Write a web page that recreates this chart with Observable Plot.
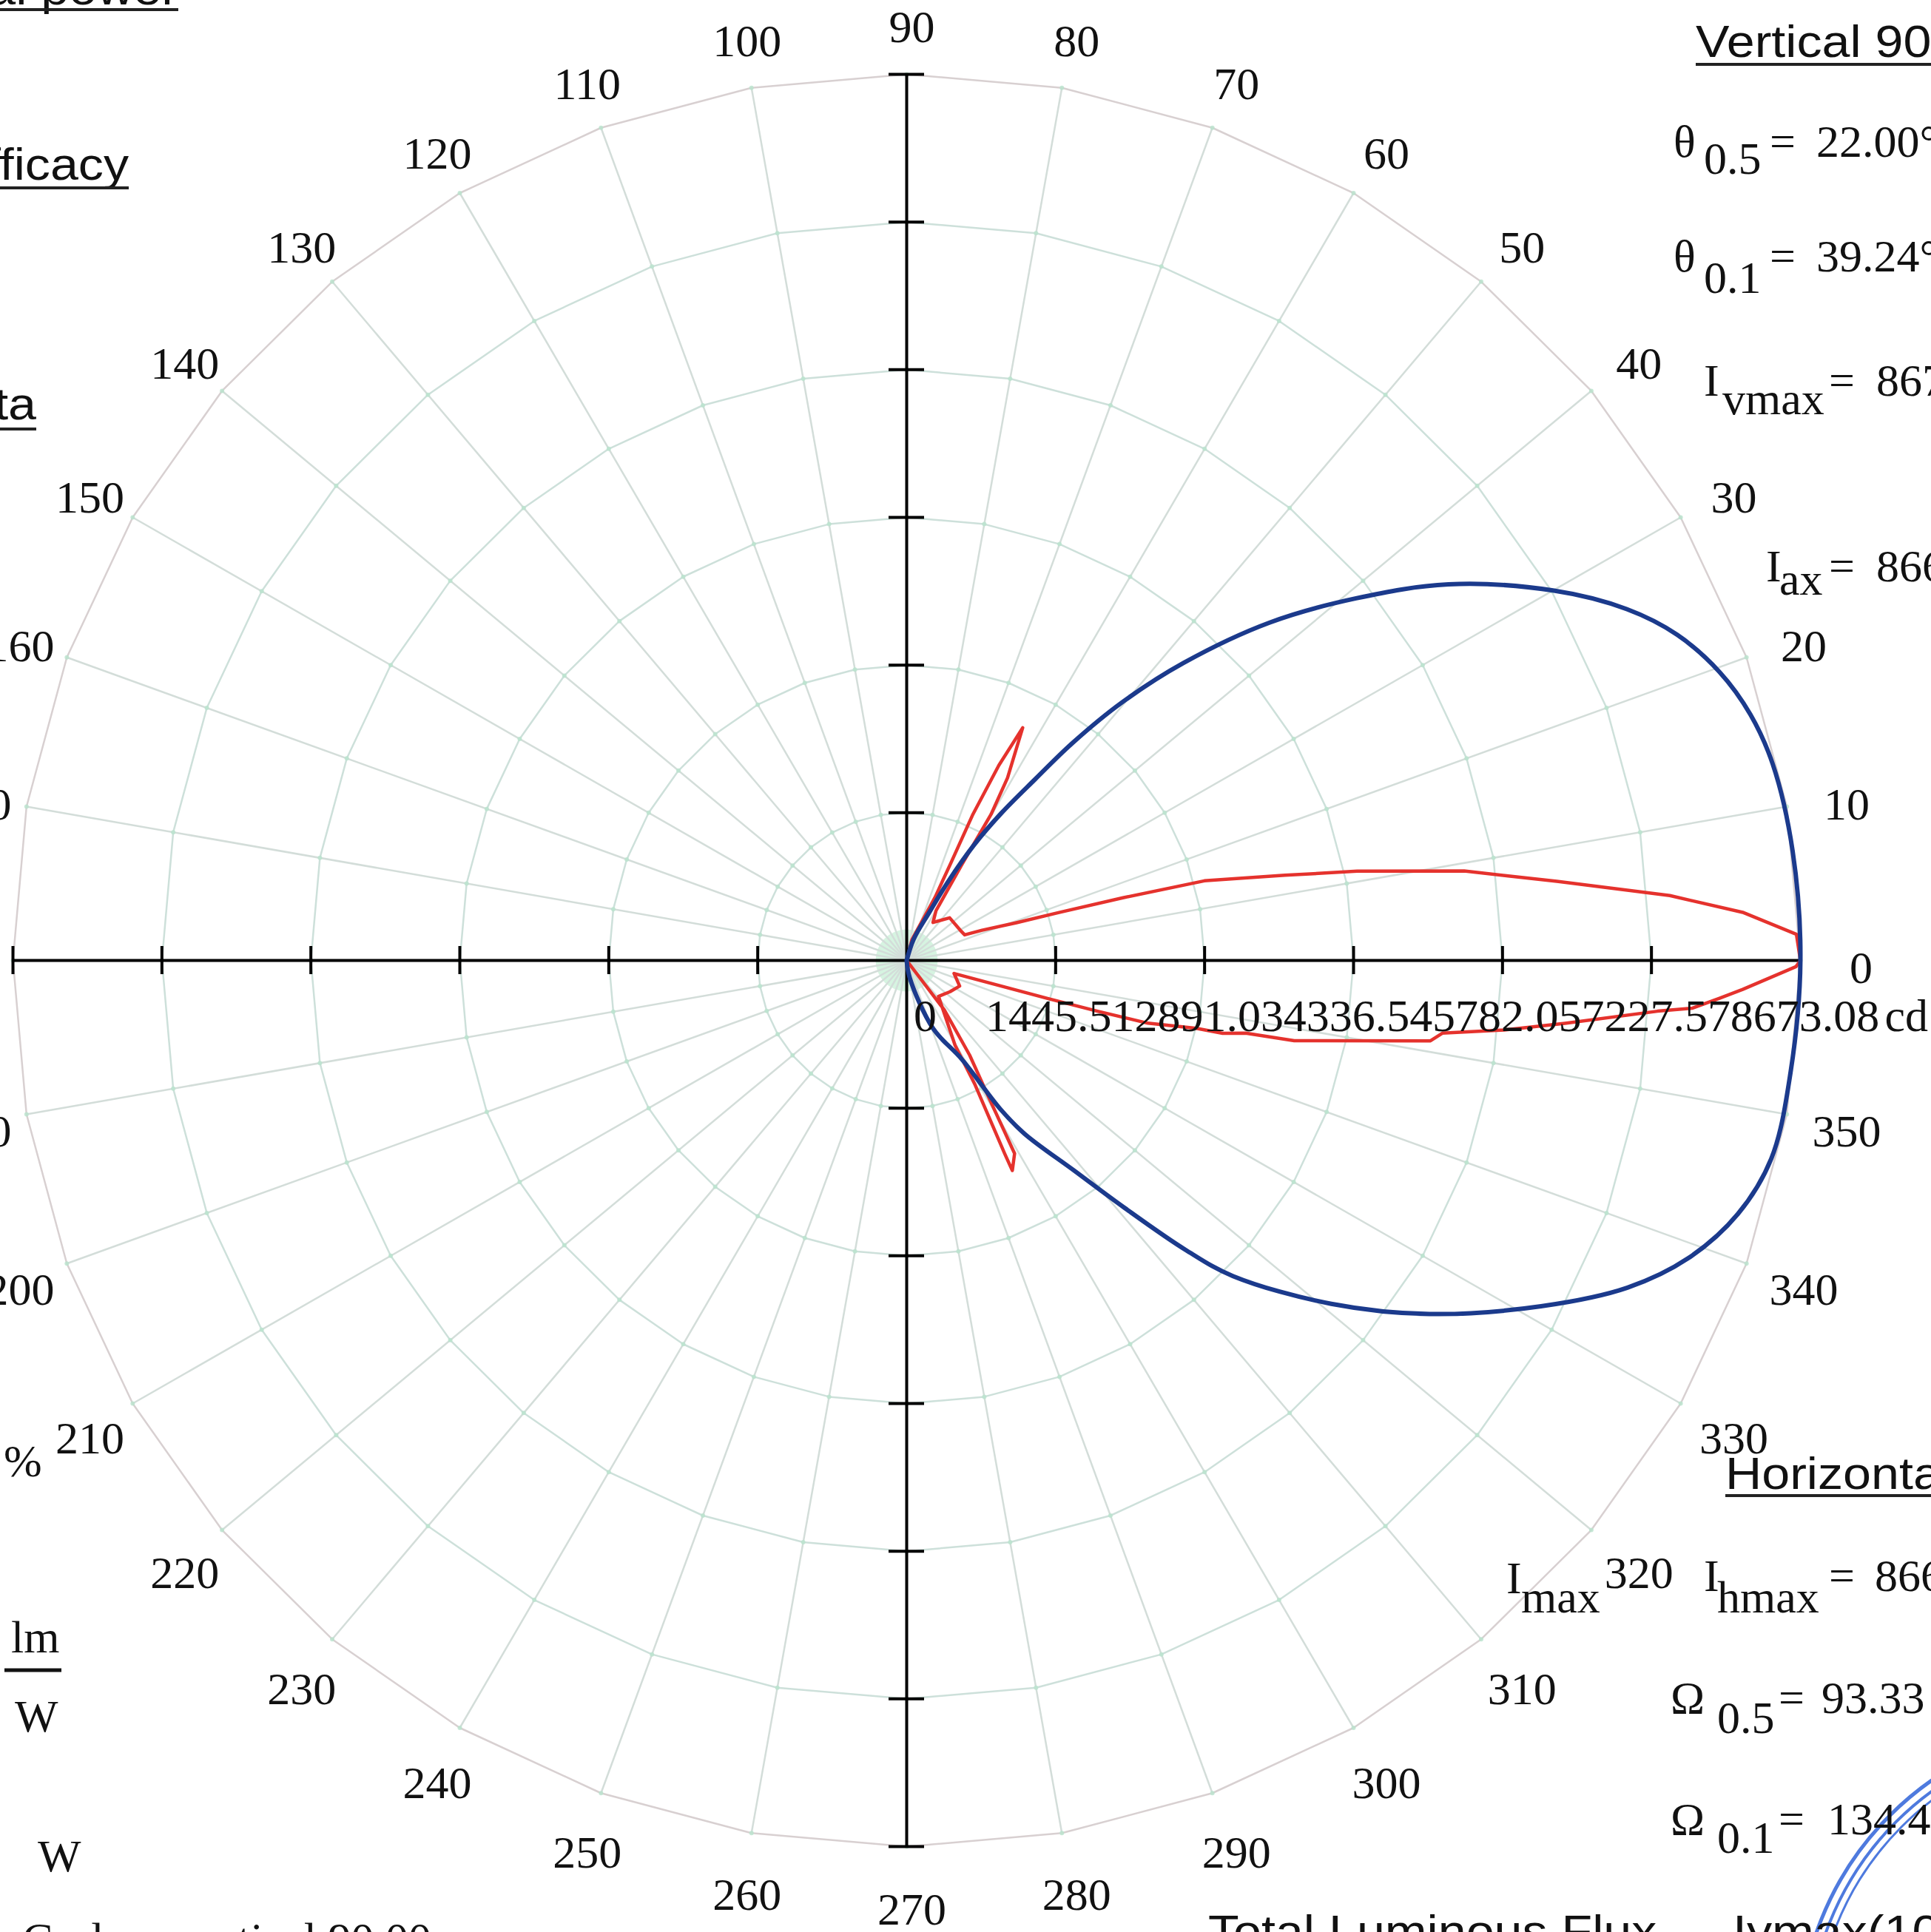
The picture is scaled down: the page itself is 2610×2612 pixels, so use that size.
<!DOCTYPE html>
<html><head><meta charset="utf-8">
<script src="https://cdn.jsdelivr.net/npm/d3@7"></script>
<script src="https://cdn.jsdelivr.net/npm/@observablehq/plot@0.6"></script>
<style>
html,body{margin:0;padding:0;background:#fff;}
#wrap{position:relative;width:2610px;height:2612px;overflow:hidden;background:#fff;}
#wrap svg{position:absolute;left:0;top:0;}
</style></head><body><div id="wrap"></div>
<script>
// ---------------- data ----------------
const maxCd = 8673.08;
const tickValues = [1445.51, 2891.03, 4336.54, 5782.05, 7227.57, 8673.08];
const tickLabels = ["1445.51", "2891.03", "4336.54", "5782.05", "7227.57", "8673.08"];
const angleLabels = [0,10,20,30,40,50,60,70,80,90,100,110,120,130,140,150,160,170,180,190,200,210,220,230,240,250,260,270,280,290,300,310,320,330,340,350];

// blue curve (degrees, cd)
const blueAngles = [-90,-80,-69,-61,-58,-56,-51.7,-48.9,-46.3,-44.3,-39.2,-34.3,-28.8,-24.6,-21,-17.1,-13,-7.3,0,7.1,12.9,16.4,19.7,23.1,26.2,30,35,39.1,43.2,47.3,50.4,52.9,54.9,57.5,60,62.5,65,72,90];
const blueValues = [0,173,711,1110,1717,2047,2619,3209,3920,4423,5317,6141,7025,7693,8127,8439,8612,8647,8673,8664,8621,8534,8378,8127,7788,7242,6418,5620,4831,3964,3278,2671,2168,1709,1301,867,520,217,0];

// red curve (degrees, cd), in drawing order
const redAngles = [-90,-53,-56.6,-59.4,-61,-63.5,-63.3,-61.4,-60.5,-48.7,-36,-26,-15.5,-15.3,-15.2,-15.0,-14.7,-13.3,-13.1,-12.2,-11.8,-8.8,-7.8,-6.7,-5.5,-3.9,-3.5,-2.7,-2.0,-0.4,0,1.7,3.3,4.9,7.0,8.1,9.2,11.3,12.8,15.1,16.3,17.6,19.1,22,24,29.7,45,55.5,59.7,60.3,60.2,61.3,63.7,64.9,65.8,65.8,66,76,90];
const redValues = [0,607,1110,1587,2160,2298,2116,1388,954,468,520,572,477,937,1431,1925,2420,2888,3148,3365,3842,5143,5247,5837,6418,7303,7641,7892,8118,8630,8673,8638,8135,7433,6357,5880,5481,4458,3764,2992,2186,1552,1127,789,616,598,590,451,564,1084,1648,2038,2541,2108,1570,1041,677,208,0];

// ---------------- layout ----------------
const W = 2610, H = 2612;
const cx = 1225, cy = 1298, rx = 1208, ry = 1198;
const R = maxCd;
const rad = d => d * Math.PI / 180;
const polar = (a, v) => ({x: v * Math.cos(rad(a)), y: v * Math.sin(rad(a))});

const blue = blueAngles.map((a, i) => polar(a, blueValues[i]));
const red = redAngles.map((a, i) => polar(a, redValues[i]));
const gridAngles = d3.range(0, 360, 10);
const spokes = gridAngles.map(a => ({a, ...polar(a, R)}));
const ringPts = tickValues.slice(0, 5).flatMap((v, k) => gridAngles.concat([360]).map(a => ({k, ...polar(a, v)})));
const outerPts = gridAngles.concat([360]).map(a => polar(a, R));
const crossPts = tickValues.flatMap(v => gridAngles.map(a => polar(a, v)));
const axisTicks = tickValues.flatMap(v => [v, -v]);
const tickH = 19 / ry * R;   // half length of ticks on horizontal axis
const tickV = 24 / rx * R;   // half length of ticks on vertical axis
const tickData = tickValues.map((v, i) => ({v, label: tickLabels[i]}));
const serif = "Liberation Serif, Times New Roman, serif";
const labelR = 1.062 * R;

const chart = Plot.plot({
  width: W, height: H,
  marginLeft: 0, marginRight: 0, marginTop: 0, marginBottom: 0,
  x: {domain: [-R, R], range: [cx - rx, cx + rx], axis: null},
  y: {domain: [-R, R], range: [cy + ry, cy - ry], axis: null},
  style: {background: "white", overflow: "visible"},
  marks: [
    Plot.dot([{x: 0, y: 0}], {x: "x", y: "y", r: 42, fill: "#c4f0d4", fillOpacity: 0.7}),
    Plot.link(spokes, {x1: () => 0, y1: () => 0, x2: "x", y2: "y", stroke: "#d3ddd9", strokeWidth: 2.5}),
    Plot.line(ringPts, {x: "x", y: "y", z: "k", stroke: "#cde0da", strokeWidth: 2.5}),
    Plot.line(outerPts, {x: "x", y: "y", stroke: "#d8d0d1", strokeWidth: 2.5}),
    Plot.dot(crossPts, {x: "x", y: "y", r: 3, fill: "#b9e4cd", fillOpacity: 0.8}),
    Plot.ruleY([0], {y: d => d, x1: () => -R, x2: () => R, stroke: "#000", strokeWidth: 4}),
    Plot.ruleX([0], {x: d => d, y1: () => -R, y2: () => R, stroke: "#000", strokeWidth: 4}),
    Plot.ruleX(axisTicks, {x: d => d, y1: () => -tickH, y2: () => tickH, stroke: "#000", strokeWidth: 4}),
    Plot.ruleY(axisTicks, {y: d => d, x1: () => -tickV, x2: () => tickV, stroke: "#000", strokeWidth: 4}),
    Plot.line(red, {x: "x", y: "y", stroke: "#e5322d", strokeWidth: 4.5, curve: "linear"}),
    Plot.line(blue, {x: "x", y: "y", stroke: "#1b3a8c", strokeWidth: 6, curve: "catmull-rom"}),
    Plot.text(tickData, {x: "v", y: () => 0, text: "label", dx: 6, dy: 76, fontSize: 62, fontFamily: serif, fill: "#111"}),
    Plot.text(["0"], {x: () => 0, y: () => 0, text: d => d, dx: 25, dy: 76, fontSize: 62, fontFamily: serif, fill: "#111"}),
    Plot.text(["cd"], {x: () => R, y: () => 0, text: d => d, dx: 114, dy: 76, textAnchor: "start", fontSize: 62, fontFamily: serif, fill: "#111"}),
    Plot.text(angleLabels, {x: a => labelR * Math.cos(rad(a)), y: a => labelR * Math.sin(rad(a)), text: a => String(a), dx: 7, dy: 11, fontSize: 62, fontFamily: serif, fill: "#111"})
  ]
});
const wrap = document.getElementById("wrap");
wrap.appendChild(chart);

// ---------------- side annotations ----------------
const sans = "Liberation Sans, Arial, sans-serif";
const notes = [
  // [text, x, y(baseline), family, anchor, scaleX]
  ["Vertical 90.00", 2292, 77, sans, "start", 1.1],
  ["Horizontal 0.00", 2332, 2013, sans, "start", 1.1],
  ["Electrical power", 241, 6, sans, "end", 1.1],
  ["Luminous efficacy", 174, 243, sans, "end", 1.1],
  ["Photometric data", 49, 567, sans, "end", 1.1],
  ["Total Luminous Flux", 1633, 2632, sans, "start", 1.1],
  ["Iymax(100%)", 2342, 2632, sans, "start", 1.1],
  ["θ", 2262, 212, serif, "start", 1], ["0.5", 2303, 235, serif, "start", 1], ["=", 2392, 212, serif, "start", 1], ["22.00°", 2455, 212, serif, "start", 1],
  ["θ", 2262, 367, serif, "start", 1], ["0.1", 2303, 396, serif, "start", 1], ["=", 2392, 367, serif, "start", 1], ["39.24°", 2455, 367, serif, "start", 1],
  ["I", 2303, 535, serif, "start", 1], ["vmax", 2328, 560, serif, "start", 1], ["=", 2472, 535, serif, "start", 1], ["8673.08 cd", 2536, 535, serif, "start", 1],
  ["I", 2387, 786, serif, "start", 1], ["ax", 2405, 804, serif, "start", 1], ["=", 2472, 786, serif, "start", 1], ["8666.19 cd", 2536, 786, serif, "start", 1],
  ["I", 2036, 2154, serif, "start", 1], ["max", 2056, 2180, serif, "start", 1],
  ["I", 2303, 2151, serif, "start", 1], ["hmax", 2321, 2180, serif, "start", 1], ["=", 2472, 2151, serif, "start", 1], ["8666.19 cd", 2534, 2151, serif, "start", 1],
  ["Ω", 2258, 2316, serif, "start", 1], ["0.5", 2321, 2343, serif, "start", 1], ["=", 2404, 2316, serif, "start", 1], ["93.33 sr", 2462, 2316, serif, "start", 1],
  ["Ω", 2258, 2480, serif, "start", 1], ["0.1", 2321, 2505, serif, "start", 1], ["=", 2404, 2480, serif, "start", 1], ["134.45 sr", 2470, 2480, serif, "start", 1],
  ["%", 5, 1996, serif, "start", 1],
  ["lm", 15, 2234, serif, "start", 1], ["W", 20, 2341, serif, "start", 1],
  ["W", 51, 2530, serif, "start", 1],
  ["Luminaire C-plane vertical 90.00", 583, 2642, serif, "end", 1]
];
const underlines = [[2292, 2610, 87], [2332, 2610, 2022], [0, 241, 13], [0, 174, 254], [0, 49, 580]];

const ov = d3.create("svg").attr("width", W).attr("height", H).attr("viewBox", `0 0 ${W} ${H}`);
// stamp (partial, bottom-right)
[[418, 5], [406, 4], [396, 3]].forEach(([r, w]) => ov.append("circle").attr("cx", 2850).attr("cy", 2750).attr("r", r)
  .attr("fill", "none").attr("stroke", "#2f63d8").attr("stroke-width", w).attr("opacity", 0.85));
for (const [s, x, y, fam, anchor, sx] of notes) {
  ov.append("text").attr("transform", `translate(${x},${y}) scale(${sx},1)`).attr("text-anchor", anchor)
    .attr("font-family", fam).attr("font-size", 62).attr("fill", "#111").text(s);
}
for (const [x1, x2, y] of underlines) {
  ov.append("line").attr("x1", x1).attr("x2", x2).attr("y1", y).attr("y2", y).attr("stroke", "#222").attr("stroke-width", 4);
}
ov.append("line").attr("x1", 6).attr("x2", 83).attr("y1", 2258).attr("y2", 2258).attr("stroke", "#111").attr("stroke-width", 5);
wrap.appendChild(ov.node());
</script></body></html>
